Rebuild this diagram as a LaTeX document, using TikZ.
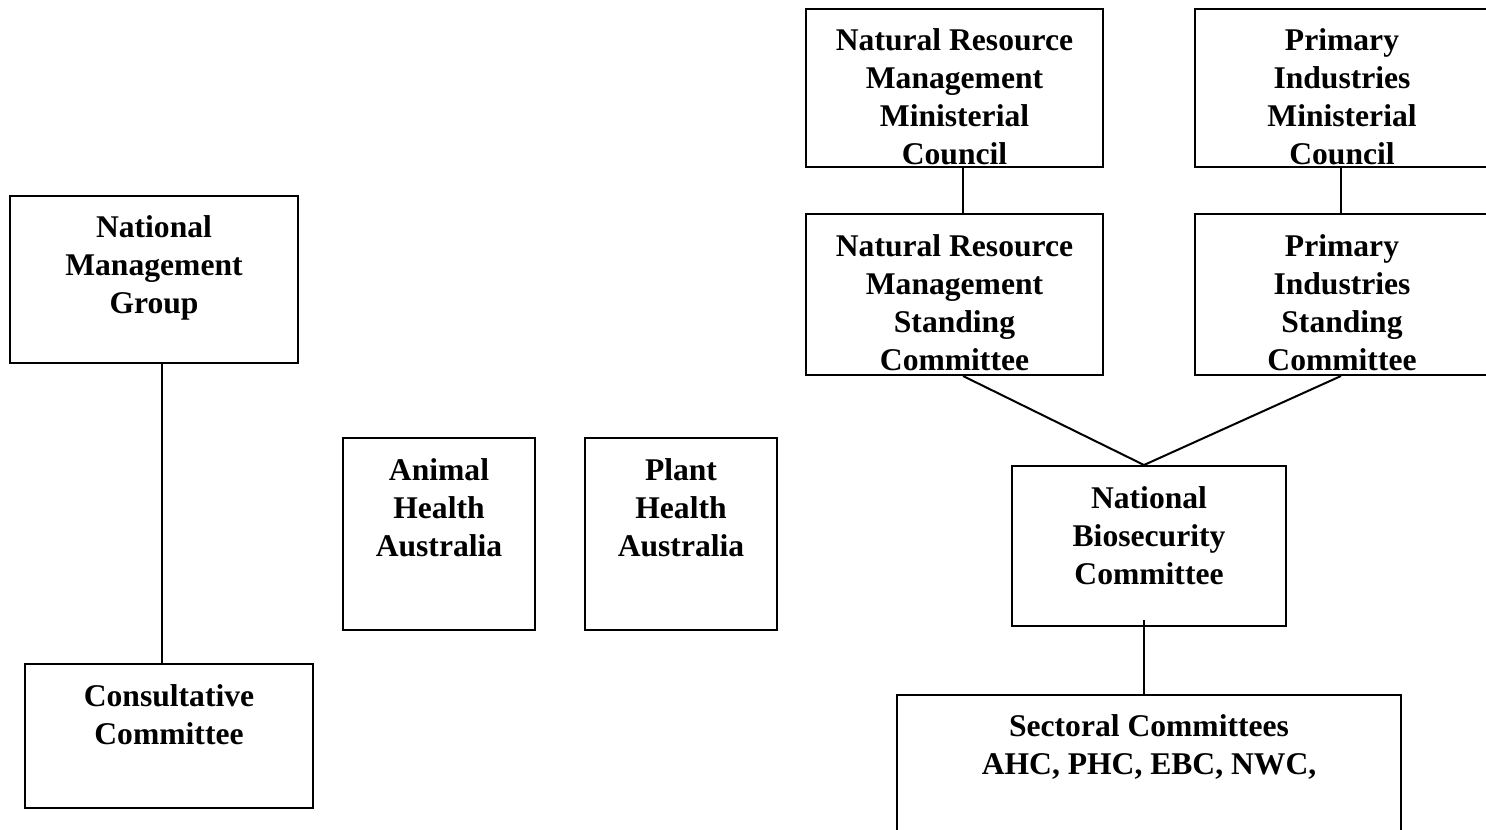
\documentclass[tikz,border=0pt]{standalone}
\usepackage{fontspec}
\setmainfont{Liberation Serif}
\usetikzlibrary{calc}
\begin{document}
\begin{tikzpicture}[x=0.5pt,y=-0.5pt,
  box/.style={draw, line width=1pt, inner sep=0pt, anchor=north west},
  lbl/.style={font=\bfseries\fontsize{15.8}{19}\selectfont, align=center, inner sep=0pt, anchor=base},
  link/.style={line width=1pt}]
\useasboundingbox (0,0) rectangle (1486,829);
% boxes
\node[box, minimum width=144pt, minimum height=83.5pt] (nmg) at (9,195) {};
\node[box, minimum width=144pt, minimum height=72pt] (cc) at (24,663) {};
\node[box, minimum width=96pt, minimum height=96pt] (aha) at (342,437) {};
\node[box, minimum width=96pt, minimum height=96pt] (pha) at (584,437) {};
\node[box, minimum width=148.5pt, minimum height=79pt] (nrmmc) at (805,8) {};
\node[box, minimum width=147pt, minimum height=79pt] (pimc) at (1194,8) {};
\node[box, minimum width=148.5pt, minimum height=80.5pt] (nrmsc) at (805,213) {};
\node[box, minimum width=147pt, minimum height=80.5pt] (pisc) at (1194,213) {};
\node[box, minimum width=137pt, minimum height=80pt] (nbc) at (1011,465) {};
\node[box, minimum width=252pt, minimum height=73pt] (sect) at (896,694) {};
% labels (anchor base = baseline of last line)
\node[lbl] (tnmg) at ($(nmg.north)+(0,118)$) {National\\Management\\Group};
\node[lbl] (tcc) at ($(cc.north)+(0,81)$) {Consultative\\Committee};
\node[lbl] (taha) at ($(aha.north)+(0,119)$) {Animal\\Health\\Australia};
\node[lbl] (tpha) at ($(pha.north)+(0,119)$) {Plant\\Health\\Australia};
\node[lbl] (tnrmmc) at ($(nrmmc.north)+(0,156)$) {Natural Resource\\Management\\Ministerial\\Council};
\node[lbl] (tpimc) at ($(pimc.north)+(0,156)$) {Primary\\Industries\\Ministerial\\Council};
\node[lbl] (tnrmsc) at ($(nrmsc.north)+(0,157)$) {Natural Resource\\Management\\Standing\\Committee};
\node[lbl] (tpisc) at ($(pisc.north)+(0,157)$) {Primary\\Industries\\Standing\\Committee};
\node[lbl] (tnbc) at ($(nbc.north)+(0,119)$) {National\\Biosecurity\\Committee};
\node[lbl] (tsect) at ($(sect.north)+(0,80)$) {Sectoral Committees\\AHC, PHC, EBC, NWC,};
% connectors
\draw[link] ([xshift=4pt]nmg.south) -- ([xshift=-3.5pt]cc.north);
\draw[link] ([xshift=4.25pt]nrmmc.south) -- ([xshift=4.25pt]nrmsc.north);
\draw[link] ([xshift=-0.5pt]pimc.south) -- ([xshift=-0.5pt]pisc.north);
\coordinate (meet) at ([xshift=-2.5pt]nbc.north);
\draw[link] ([xshift=4.25pt]nrmsc.south) -- (meet);
\draw[link] ([xshift=-0.5pt]pisc.south) -- (meet);
\draw[link] ([xshift=-2.5pt,yshift=3.5pt]nbc.south) -- ([xshift=-2.5pt]sect.north);
\end{tikzpicture}
\end{document}
